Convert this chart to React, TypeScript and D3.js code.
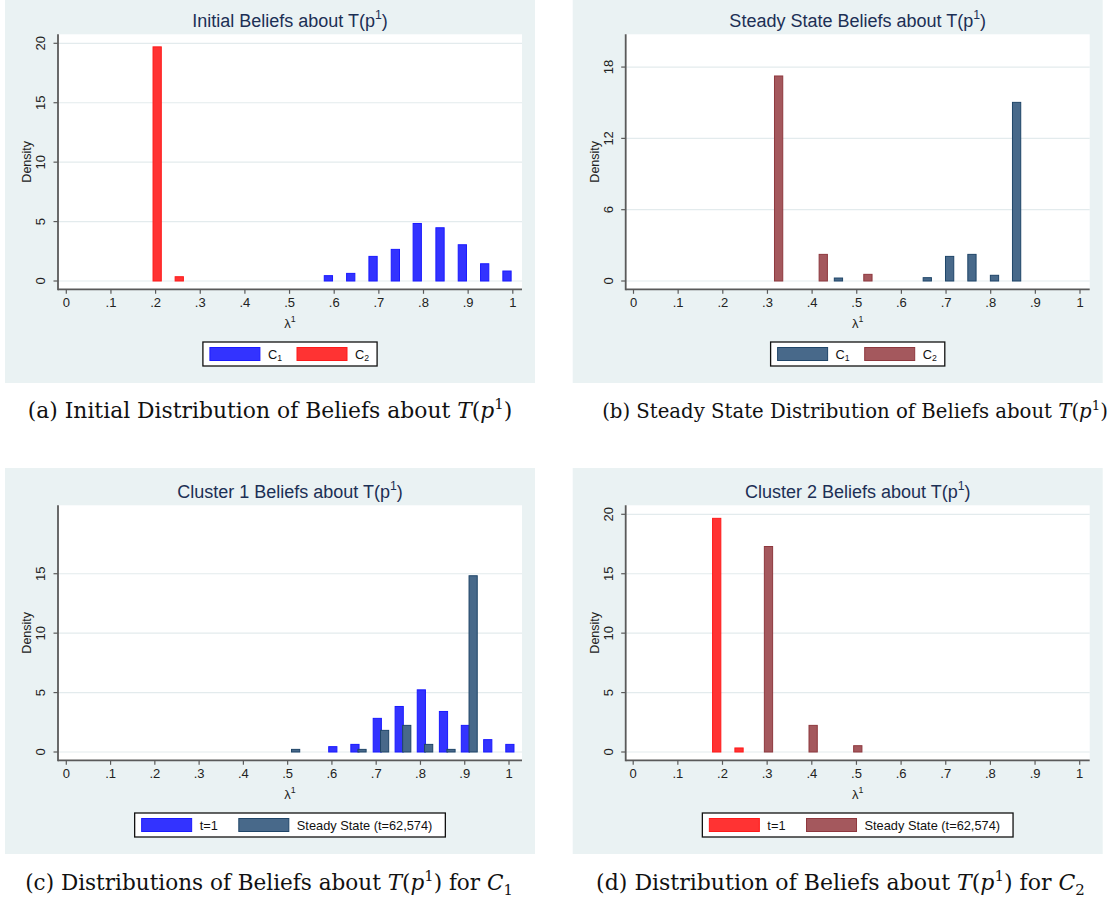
import React, { useEffect, useRef } from 'react'
import * as d3 from 'd3'

// x axis ticks (lambda^1)
const xTickValues = [0, 0.1, 0.2, 0.3, 0.4, 0.5, 0.6, 0.7, 0.8, 0.9, 1]
const xTickLabels = ['0', '.1', '.2', '.3', '.4', '.5', '.6', '.7', '.8', '.9', '1']

// (a) initial beliefs
const initC1Lambda = [0.587, 0.637, 0.687, 0.737, 0.786, 0.837, 0.887, 0.937, 0.987]
const initC1Density = [0.45, 0.64, 2.07, 2.66, 4.84, 4.48, 3.05, 1.45, 0.84]
const initC2Lambda = [0.2035, 0.253]
const initC2Density = [19.7, 0.36]

// (b) steady state beliefs
const ssC1Lambda = [0.459, 0.658, 0.708, 0.758, 0.8085, 0.858]
const ssC1Density = [0.25, 0.28, 2.07, 2.24, 0.48, 15.03]
const ssC2Lambda = [0.325, 0.425, 0.525]
const ssC2Density = [17.25, 2.24, 0.56]

// (c) cluster 1
const c1StartLambda = [0.602, 0.652, 0.7025, 0.752, 0.802, 0.852, 0.9015, 0.952, 1.002]
const c1StartDensity = [0.45, 0.64, 2.83, 3.83, 5.23, 3.41, 2.24, 1.04, 0.64]
const c1SteadyLambda = [0.518, 0.668, 0.719, 0.769, 0.8185, 0.869, 0.919]
const c1SteadyDensity = [0.22, 0.22, 1.82, 2.24, 0.64, 0.22, 14.83]

// (d) cluster 2
const c2StartLambda = [0.187, 0.237]
const c2StartDensity = [19.66, 0.34]
const c2SteadyLambda = [0.303, 0.403, 0.503]
const c2SteadyDensity = [17.29, 2.24, 0.53]

const SANS = '"Liberation Sans", Arial, sans-serif'
const SERIF = '"DejaVu Serif", "Liberation Serif", serif'
const BG = '#eaf2f3'
const AXIS = '#5a5a5a'
const TITLE = '#1c2f55'

const blue = { fill: '#3333ff', stroke: '#1a1aff' }
const red = { fill: '#ff3333', stroke: '#ff1a1a' }
const navy = { fill: '#48698a', stroke: '#1f4568' }
const maroon = { fill: '#a4585d', stroke: '#8e383e' }

// rich text helper: parts are [text, kind] with kind '', 'i', 'sup', 'sub'
function rich(text, parts, fs) {
  let shift = 0
  parts.forEach(([t, kind]) => {
    const ts = text.append('tspan').text(t)
    let target = 0
    if (kind === 'sup') target = -0.42 * fs
    if (kind === 'sub') target = 0.22 * fs
    if (target !== shift) { ts.attr('dy', target - shift); shift = target }
    if (kind === 'sup' || kind === 'sub') ts.attr('font-size', fs * 0.68)
    if (kind === 'i') ts.attr('font-style', 'italic')
  })
}

const titleParts = (s) => [[s + ' T(p', ''], ['1', 'sup'], [')', '']]

const panels = [
  {
    left: 5, top: 0, bgTop: 0, xRange: [61.3, 507.8], yTicks: [0, 5, 10, 15, 20],
    title: 'Initial Beliefs about',
    series: [
      { lambda: initC1Lambda, density: initC1Density, color: blue },
      { lambda: initC2Lambda, density: initC2Density, color: red },
    ],
    legend: [
      { parts: [['C', ''], ['1', 'sub']], color: blue },
      { parts: [['C', ''], ['2', 'sub']], color: red },
    ],
    legendGap: 15, legendEnd: 8,
    caption: [['(a) Initial Distribution of Beliefs about ', ''], ['T', 'i'], ['(', ''], ['p', 'i'], ['1', 'sup'], [')', '']],
    capX: 270, capY: 418, capW: 485,
  },
  {
    left: 572.7, top: 0, bgTop: 0, xRange: [60.8, 507.3], yTicks: [0, 6, 12, 18],
    title: 'Steady State Beliefs about',
    series: [
      { lambda: ssC1Lambda, density: ssC1Density, color: navy },
      { lambda: ssC2Lambda, density: ssC2Density, color: maroon },
    ],
    legend: [
      { parts: [['C', ''], ['1', 'sub']], color: navy },
      { parts: [['C', ''], ['2', 'sub']], color: maroon },
    ],
    legendGap: 15, legendEnd: 8,
    caption: [['(b) Steady State Distribution of Beliefs about ', ''], ['T', 'i'], ['(', ''], ['p', 'i'], ['1', 'sup'], [')', '']],
    capX: 855, capY: 418, capW: 506,
  },
  {
    left: 5, top: 471, bgTop: -3, xRange: [61.3, 504], yTicks: [0, 5, 10, 15],
    title: 'Cluster 1 Beliefs about',
    series: [
      { lambda: c1StartLambda, density: c1StartDensity, color: blue },
      { lambda: c1SteadyLambda, density: c1SteadyDensity, color: navy },
    ],
    legend: [
      { parts: [['t=1', '']], color: blue },
      { parts: [['Steady State (t=62,574)', '']], color: navy },
    ],
    legendGap: 21, legendEnd: 13,
    caption: [['(c) Distributions of Beliefs about ', ''], ['T', 'i'], ['(', ''], ['p', 'i'], ['1', 'sup'], [')', ''], [' for ', ''], ['C', 'i'], ['1', 'sub']],
    capX: 269, capY: 890, capW: 488,
  },
  {
    left: 572.7, top: 471, bgTop: -3, xRange: [60.5, 507], yTicks: [0, 5, 10, 15, 20],
    title: 'Cluster 2 Beliefs about',
    series: [
      { lambda: c2StartLambda, density: c2StartDensity, color: red },
      { lambda: c2SteadyLambda, density: c2SteadyDensity, color: maroon },
    ],
    legend: [
      { parts: [['t=1', '']], color: red },
      { parts: [['Steady State (t=62,574)', '']], color: maroon },
    ],
    legendGap: 21, legendEnd: 13,
    caption: [['(d) Distribution of Beliefs about ', ''], ['T', 'i'], ['(', ''], ['p', 'i'], ['1', 'sup'], [')', ''], [' for ', ''], ['C', 'i'], ['2', 'sub']],
    capX: 840.5, capY: 890, capW: 489,
  },
]

const W = 530, H = 383
const PL = 53, PR = 517, PT = 34.3, PB = 289.3

function drawPanel(root, p) {
  const g = root.append('g').attr('transform', `translate(${p.left},${p.top})`)
  g.append('rect').attr('y', p.bgTop).attr('width', W).attr('height', H - p.bgTop).attr('fill', BG)
  g.append('rect').attr('x', PL).attr('y', PT).attr('width', PR - PL).attr('height', PB - PT).attr('fill', '#fff')

  const x = d3.scaleLinear().domain([0, 1]).range(p.xRange)
  const y = d3.scaleLinear().domain([0, 20]).range([281, 43.3])
  const bw = x(0.0185) - x(0)

  // gridlines
  g.append('g').selectAll('line').data(p.yTicks).join('line')
    .attr('x1', PL).attr('x2', PR)
    .attr('y1', d => y(d)).attr('y2', d => y(d))
    .attr('stroke', '#e3ebed').attr('stroke-width', 1.2)

  // bars
  p.series.forEach(s => {
    g.append('g').selectAll('rect').data(d3.zip(s.lambda, s.density)).join('rect')
      .attr('x', d => x(d[0]) - bw / 2)
      .attr('width', bw)
      .attr('y', d => y(d[1]))
      .attr('height', d => y(0) - y(d[1]))
      .attr('fill', s.color.fill)
      .attr('stroke', s.color.stroke)
      .attr('stroke-width', 1)
  })

  // axes
  g.append('line').attr('x1', PL).attr('x2', PL).attr('y1', PT).attr('y2', PB + 0.9)
    .attr('stroke', AXIS).attr('stroke-width', 1.8)
  g.append('line').attr('x1', PL).attr('x2', PR).attr('y1', PB).attr('y2', PB)
    .attr('stroke', AXIS).attr('stroke-width', 1.8)

  const yt = g.append('g').selectAll('g').data(p.yTicks).join('g')
    .attr('transform', d => `translate(0,${y(d)})`)
  yt.append('line').attr('x1', PL - 4.5).attr('x2', PL).attr('stroke', AXIS).attr('stroke-width', 1.2)
  yt.append('text')
    .attr('transform', 'translate(35.7,0) rotate(-90)')
    .attr('dy', '0.35em')
    .attr('text-anchor', 'middle')
    .attr('font-family', SANS).attr('font-size', 13).attr('fill', '#222')
    .text(d => d)

  const xt = g.append('g').selectAll('g').data(d3.zip(xTickValues, xTickLabels)).join('g')
    .attr('transform', d => `translate(${x(d[0])},0)`)
  xt.append('line').attr('y1', PB).attr('y2', PB + 4.5).attr('stroke', AXIS).attr('stroke-width', 1.2)
  xt.append('text')
    .attr('y', PB + 17.8)
    .attr('text-anchor', 'middle')
    .attr('font-family', SANS).attr('font-size', 13).attr('fill', '#222')
    .text(d => d[1])

  // axis titles
  g.append('text')
    .attr('transform', `translate(21.6,${(PT + PB) / 2}) rotate(-90)`)
    .attr('dy', '0.35em').attr('text-anchor', 'middle')
    .attr('font-family', SANS).attr('font-size', 12.5).attr('fill', '#222')
    .text('Density')
  const xl = g.append('text')
    .attr('x', (PL + PR) / 2).attr('y', 327.5)
    .attr('text-anchor', 'middle')
    .attr('font-family', SANS).attr('font-size', 13).attr('fill', '#222')
  rich(xl, [['λ', ''], ['1', 'sup']], 13)

  // title
  const tt = g.append('text')
    .attr('x', (PL + PR) / 2).attr('y', 26.5)
    .attr('text-anchor', 'middle')
    .attr('font-family', SANS).attr('font-size', 18).attr('fill', TITLE)
  rich(tt, titleParts(p.title), 18)

  // legend
  const lg = g.append('g')
  let cx = 7
  p.legend.forEach((it, i) => {
    if (i > 0) cx += p.legendGap
    lg.append('rect').attr('x', cx).attr('y', 5.5).attr('width', 50).attr('height', 13)
      .attr('fill', it.color.fill).attr('stroke', it.color.stroke).attr('stroke-width', 1)
    cx += 50 + 8
    const t = lg.append('text').attr('x', cx).attr('y', 16.5)
      .attr('font-family', SANS).attr('font-size', 12.8).attr('fill', '#111')
    rich(t, it.parts, 12.8)
    cx += t.node().getComputedTextLength()
  })
  cx += p.legendEnd
  lg.insert('rect', ':first-child').attr('width', cx).attr('height', 24)
    .attr('fill', '#fff').attr('stroke', '#111').attr('stroke-width', 1.3)
  lg.attr('transform', `translate(${(PL + PR) / 2 - cx / 2},342)`)

  // caption (below the panel, page coordinates); font size chosen to fill the measured width
  const cap = root.append('text')
    .attr('x', p.capX).attr('y', p.capY)
    .attr('text-anchor', 'middle')
    .attr('font-family', SERIF).attr('font-size', 20).attr('fill', '#111')
  rich(cap, p.caption, 20)
  const fs = 20 * p.capW / cap.node().getComputedTextLength()
  cap.selectAll('*').remove()
  cap.attr('font-size', fs)
  rich(cap, p.caption, fs)
}

export default function App() {
  const ref = useRef(null)
  useEffect(() => {
    const svg = d3.select(ref.current)
    svg.selectAll('*').remove()
    panels.forEach(p => drawPanel(svg, p))
  }, [])
  return (
    <svg ref={ref} width={1114} height={900}
      style={{ position: 'absolute', left: 0, top: 0, background: '#fff' }} />
  )
}
